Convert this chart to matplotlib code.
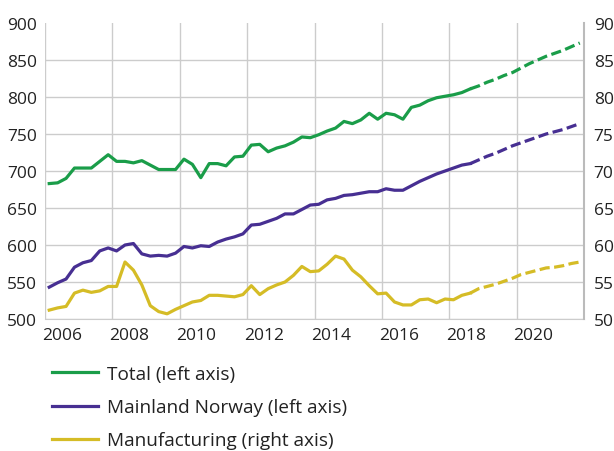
import numpy as np
import matplotlib.pyplot as plt
from matplotlib.lines import Line2D

plt.rcParams['font.family'] = ['Open Sans', 'DejaVu Sans']

# quarterly figures, 2006 Q1 - 2021 Q4, projection from 2018 Q3
first_year = 2006
n_actual = 51

total = [683, 684, 690, 704, 704, 704, 713, 722, 713, 713,
         711, 714, 708, 702, 702, 702, 716, 709, 691, 710,
         710, 707, 719, 720, 735, 736, 726, 731, 734, 739,
         746, 745, 749, 754, 758, 767, 764, 769, 778, 770,
         778, 776, 770, 786, 789, 795, 799, 801, 803, 806,
         811, 815, 820, 824, 829, 833, 839, 845, 850, 855,
         859, 863, 868, 873]
mainland = [543, 549, 554, 570, 576, 579, 592, 596, 592, 600,
            602, 588, 585, 586, 585, 589, 598, 596, 599, 598,
            604, 608, 611, 615, 627, 628, 632, 636, 642, 642,
            648, 654, 655, 661, 663, 667, 668, 670, 672, 672,
            676, 674, 674, 680, 686, 691, 696, 700, 704, 708,
            710, 715, 720, 724, 729, 734, 738, 742, 746, 750,
            753, 756, 760, 764]
manufacturing = [51.2, 51.5, 51.7, 53.5, 53.9, 53.6, 53.8, 54.4, 54.4, 57.7,
                 56.6, 54.6, 51.8, 51.0, 50.7, 51.3, 51.8, 52.3, 52.5, 53.2,
                 53.2, 53.1, 53.0, 53.3, 54.5, 53.3, 54.1, 54.6, 55.0, 55.9,
                 57.1, 56.4, 56.5, 57.4, 58.5, 58.1, 56.6, 55.7, 54.5, 53.4,
                 53.5, 52.3, 51.9, 51.9, 52.6, 52.7, 52.2, 52.7, 52.6, 53.2,
                 53.5, 54.1, 54.4, 54.7, 55.1, 55.5, 56.0, 56.3, 56.6, 56.9,
                 57.0, 57.2, 57.5, 57.7]

labels = ['Total (left axis)', 'Mainland Norway (left axis)', 'Manufacturing (right axis)']
colors = ['#1a9d49', '#472f92', '#d5bc26']
year_labels = [str(y) for y in range(2006, 2021, 2)]

x = first_year + np.arange(len(total)) / 4 + 0.125

fig = plt.figure(figsize=(6.14, 4.52), dpi=100)
ax = fig.add_axes([45 / 614, 1 - 320 / 452, (584 - 45) / 614, (320 - 24) / 452])
ax2 = ax.twinx()

grid_c = '#cccccc'
txt_c = '#222222'
lw = 2.3
dash = (0, (3.2, 1.4))

def draw(axis, vals, c):
    vals = np.asarray(vals)
    axis.plot(x[:n_actual], vals[:n_actual], color=c, lw=lw, solid_joinstyle='round')
    axis.plot(x[n_actual - 1:], vals[n_actual - 1:], color=c, lw=lw, linestyle=dash)

draw(ax, total, colors[0])
draw(ax, mainland, colors[1])
draw(ax2, manufacturing, colors[2])

ax.set_xlim(2006, 2022)
ax.set_ylim(500, 900)
ax2.set_ylim(50, 90)
ax.set_yticks(range(500, 901, 50))
ax2.set_yticks(range(50, 91, 5))
ax.set_xticks(range(2006, 2023, 2))
ax.set_xticklabels([])
ax.set_xticks(np.arange(2006.5, 2021, 2), minor=True)
ax.set_xticklabels(year_labels, minor=True)

ax.grid(True, color=grid_c, lw=1)
ax.set_axisbelow(True)
ax.yaxis.get_gridlines()[-1].set_visible(False)

for a in (ax, ax2):
    a.tick_params(which='both', length=0, labelsize=12.5, colors=txt_c)
    for s in a.spines.values():
        s.set_visible(False)
ax.tick_params(axis='y', pad=6)
ax2.tick_params(axis='y', pad=7)
ax.tick_params(axis='x', which='both', pad=6)
ax.spines['bottom'].set_visible(True)
ax.spines['bottom'].set_color(grid_c)
ax2.spines['right'].set_visible(True)
ax2.spines['right'].set_color('#bbbbbb')
ax2.spines['right'].set_linewidth(1.5)

handles = [Line2D([], [], color=c, lw=lw) for c in colors]
fig.legend(handles, labels, loc='upper left', bbox_to_anchor=(52 / 614, 1 - 366 / 452),
           frameon=False, fontsize=13.7, handlelength=2.4, handletextpad=0.5,
           labelspacing=0.8, borderpad=0, borderaxespad=0, labelcolor=txt_c)

fig.savefig('out.png', dpi=100)
